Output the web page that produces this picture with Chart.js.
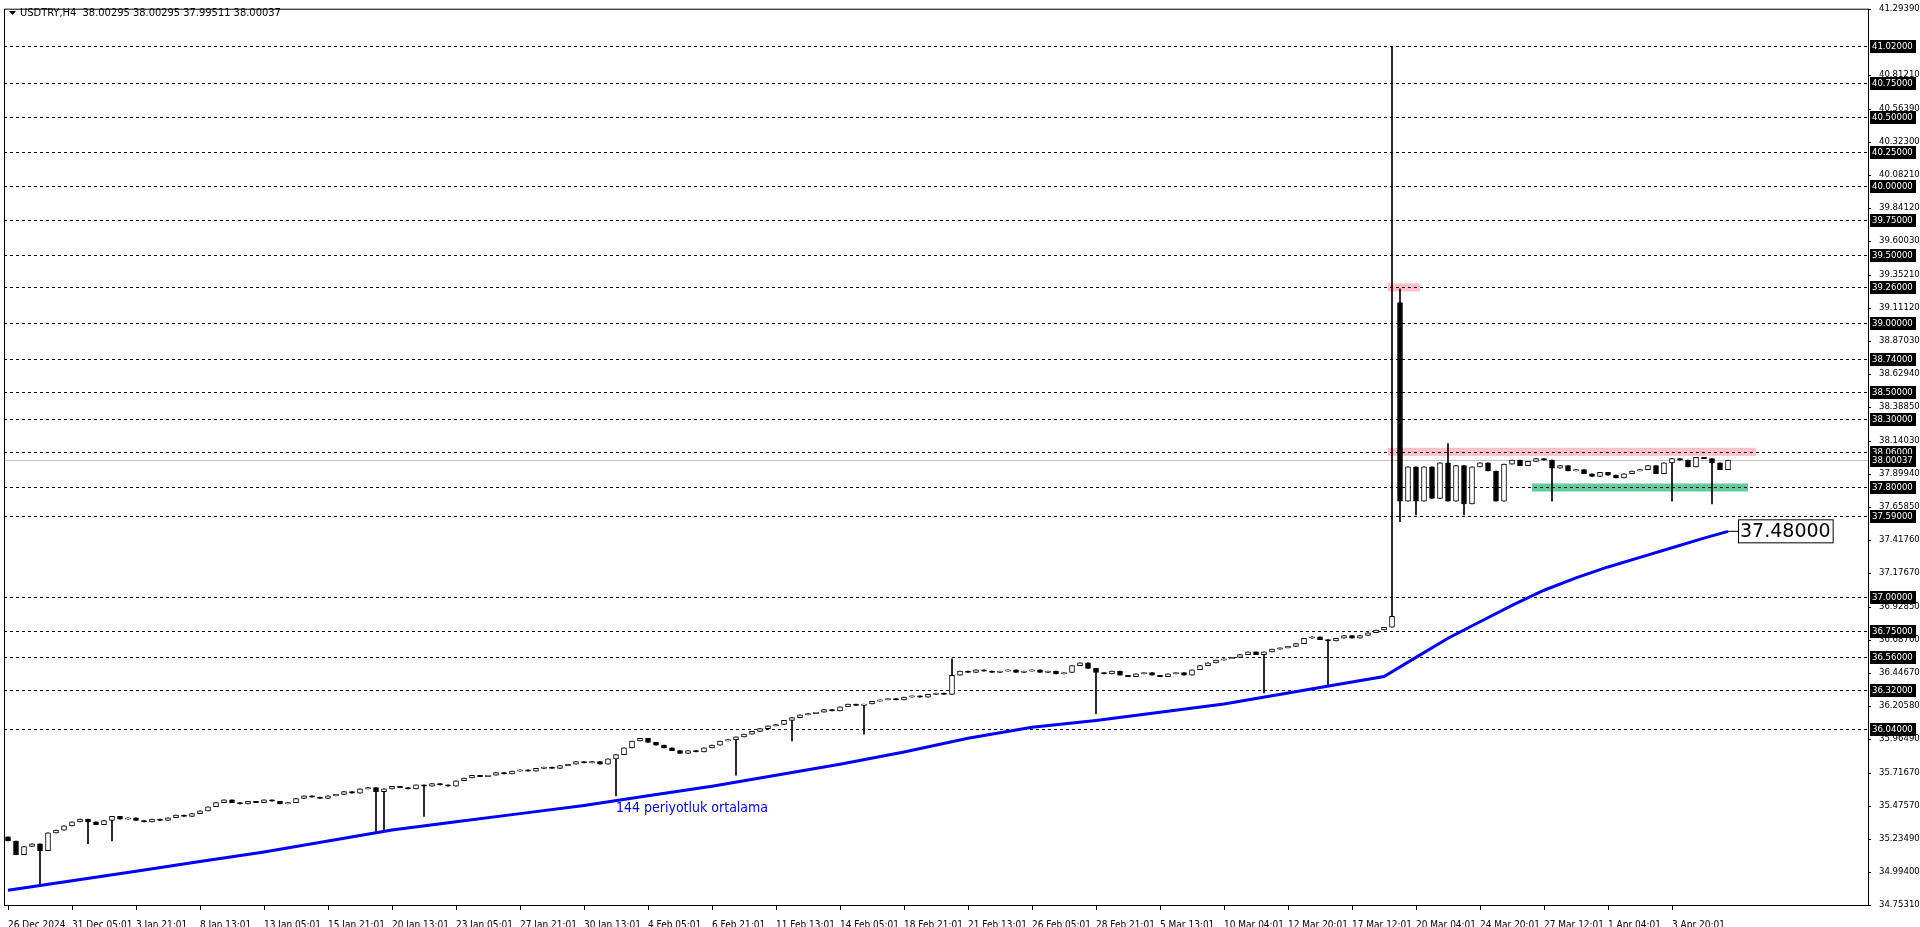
<!DOCTYPE html>
<html>
<head>
<meta charset="utf-8">
<script src="https://cdn.jsdelivr.net/npm/chart.js@4"></script>
<style>
  html, body { margin: 0; padding: 0; background: #fff; }
  #wrap { width: 1920px; height: 927px; position: relative; }
</style>
</head>
<body>
<div id="wrap"><canvas id="chart" width="1920" height="927"></canvas></div>
<script>
// --- DATA ---
const dateLabels = ['26 Dec 2024', '31 Dec 05:01', '3 Jan 21:01', '8 Jan 13:01', '13 Jan 05:01', '15 Jan 21:01',
  '20 Jan 13:01', '23 Jan 05:01', '27 Jan 21:01', '30 Jan 13:01', '4 Feb 05:01', '6 Feb 21:01', '11 Feb 13:01',
  '14 Feb 05:01', '18 Feb 21:01', '21 Feb 13:01', '26 Feb 05:01', '28 Feb 21:01', '5 Mar 13:01', '10 Mar 04:01',
  '12 Mar 20:01', '17 Mar 12:01', '20 Mar 04:01', '24 Mar 20:01', '27 Mar 12:01', '1 Apr 04:01', '3 Apr 20:01'];

const closes = [
  35.22,35.12,35.18,35.2,35.15,35.28,35.3,35.33,
  35.36,35.38,35.36,35.34,35.37,35.4,35.38,35.39,
  35.37,35.36,35.38,35.37,35.39,35.41,35.4,35.42,
  35.44,35.47,35.5,35.52,35.5,35.49,35.51,35.5,
  35.52,35.51,35.49,35.5,35.53,35.55,35.54,35.53,
  35.55,35.56,35.58,35.57,35.6,35.61,35.58,35.6,
  35.62,35.61,35.6,35.63,35.62,35.64,35.63,35.62,
  35.66,35.68,35.7,35.69,35.7,35.72,35.71,35.73,
  35.74,35.73,35.75,35.76,35.75,35.77,35.78,35.8,
  35.79,35.8,35.78,35.82,35.85,35.9,35.95,35.97,
  35.94,35.92,35.9,35.88,35.86,35.88,35.87,35.9,
  35.92,35.95,35.96,35.98,36.0,36.02,36.04,36.06,
  36.07,36.1,36.12,36.14,36.15,36.16,36.18,36.17,
  36.2,36.22,36.21,36.22,36.24,36.25,36.26,36.25,
  36.27,36.28,36.27,36.29,36.3,36.29,36.43,36.46,
  36.45,36.47,36.46,36.45,36.46,36.47,36.45,36.46,
  36.47,36.45,36.46,36.44,36.45,36.5,36.52,36.48,
  36.45,36.44,36.46,36.43,36.42,36.44,36.45,36.43,
  36.42,36.44,36.45,36.43,36.47,36.5,36.52,36.54,
  36.55,36.56,36.58,36.6,36.58,36.6,36.62,36.63,
  36.64,36.66,36.7,36.71,36.69,36.68,36.7,36.72,
  36.7,36.72,36.74,36.76,36.78,
  36.86,
  37.7,
  37.95,37.7,37.95,37.72,37.98,37.7,37.96,37.68,37.95,
  37.98,37.92,37.7,37.97,38.0,37.96,37.99,38.01,
  38.0,37.94,37.96,37.92,37.93,37.9,37.88,37.91,
  37.89,37.87,37.9,37.92,37.93,37.96,37.9,37.98,
  38.01,38.0,37.95,38.02,38.01,37.98,37.93,38.00037
];
const firstOpen = 35.25;
// opens that gap away from the previous close: [bar index, price]
const gapOpens = [[174, 39.15]];

// long wicks: [bar index, price]
const lowWicks = [[4,34.9],[10,35.2],[13,35.22],[46,35.28],[47,35.3],[52,35.4],[76,35.55],[91,35.7],[98,35.95],
  [107,36.0],[136,36.15],[157,36.3],[165,36.35],[174,37.55],[176,37.6],[182,37.6],[193,37.7],[208,37.7],[213,37.68]];
const highWicks = [[118,36.55],[173,41.02],[174,39.25],[180,38.12]];

// 144 period moving average: [bar index, value]
const maPoints = [[0,34.86],[8,34.93],[16,35.0],[24,35.07],[32,35.14],[40,35.22],[48,35.3],[56,35.36],[64,35.42],
  [72,35.48],[80,35.55],[88,35.62],[96,35.7],[104,35.78],[112,35.87],[120,35.97],[128,36.05],[136,36.1],
  [144,36.16],[152,36.22],[160,36.3],[168,36.38],[172,36.42],[176,36.56],[180,36.7],[184,36.82],[188,36.94],
  [192,37.05],[196,37.14],[200,37.22],[204,37.29],[208,37.36],[212,37.43],[215,37.48]];

const levels = [41.02, 40.75, 40.5, 40.25, 40.0, 39.75, 39.5, 39.26, 39.0, 38.74, 38.5, 38.3, 38.06, 37.8, 37.59,
  37.0, 36.75, 36.56, 36.32, 36.04];
const priceTicks = [41.2939, 40.8121, 40.5639, 40.323, 40.0821, 39.8412, 39.6003, 39.3521, 39.1112, 38.8703,
  38.6294, 38.3885, 38.1403, 37.8994, 37.6585, 37.4176, 37.1767, 36.9285, 36.6876, 36.4467, 36.2058,
  35.9649, 35.7167, 35.4757, 35.2349, 34.994, 34.7531];
const lastPrice = 38.00037;
const maLabel = '37.48000';
// zones: [price, from bar, to bar, colour]
const zones = [[39.26, 173, 177, 'rgba(255,170,185,0.75)'], [38.06, 173, 219, 'rgba(255,170,185,0.75)'],
  [37.8, 191, 218, 'rgba(60,190,140,0.8)']];

const TOTAL_SLOTS = 233;
const Y_MIN = 34.7531, Y_MAX = 41.2939;

// --- BUILD ---
const slots = [];
for (let i = 0; i < TOTAL_SLOTS; i++) slots.push(i % 8 === 0 && dateLabels[i / 8] ? dateLabels[i / 8] : '');

const opens = closes.map((c, i) => i === 0 ? firstOpen : closes[i - 1]);
gapOpens.forEach(([i, v]) => { opens[i] = v; });
const lows = closes.map((c, i) => Math.min(c, opens[i]));
const highs = closes.map((c, i) => Math.max(c, opens[i]));
lowWicks.forEach(([i, v]) => { lows[i] = v; });
highWicks.forEach(([i, v]) => { highs[i] = v; });

const wickData = closes.map((c, i) => [lows[i], highs[i]]);
const bodyData = closes.map((c, i) => [opens[i], c]);
const bodyFill = closes.map((c, i) => c >= opens[i] ? '#ffffff' : '#000000');
const maData = new Array(TOTAL_SLOTS).fill(null);
maPoints.forEach(([i, v]) => { maData[i] = v; });

const FONT = '"DejaVu Sans Condensed", "Liberation Sans", sans-serif';

const overlay = {
  id: 'overlay',
  beforeDatasetsDraw(chart) {
    const { ctx, chartArea: a, scales: { x, y } } = chart;
    ctx.save();
    zones.forEach(([p, from, to, col]) => {
      const yy = y.getPixelForValue(p);
      ctx.fillStyle = col;
      ctx.fillRect(x.getPixelForValue(from) - 4, yy - 4, x.getPixelForValue(to) - x.getPixelForValue(from), 8);
    });
    ctx.strokeStyle = '#000';
    ctx.lineWidth = 1;
    ctx.setLineDash([3, 3]);
    levels.forEach(p => {
      const yy = Math.round(y.getPixelForValue(p)) + 0.5;
      ctx.beginPath(); ctx.moveTo(a.left, yy); ctx.lineTo(a.right, yy); ctx.stroke();
    });
    ctx.setLineDash([]);
    ctx.strokeStyle = '#c0c0c0';
    const ly = Math.round(y.getPixelForValue(lastPrice)) + 0.5;
    ctx.beginPath(); ctx.moveTo(a.left, ly); ctx.lineTo(a.right, ly); ctx.stroke();
    ctx.restore();
  },
  afterDraw(chart) {
    const { ctx, chartArea: a, scales: { x, y } } = chart;
    ctx.save();
    ctx.strokeStyle = '#000';
    ctx.lineWidth = 1;
    ctx.strokeRect(a.left + 0.5, a.top + 0.5, a.right - a.left, a.bottom - a.top);
    // price axis tick marks
    priceTicks.forEach(p => {
      const yy = Math.round(y.getPixelForValue(p)) + 0.5;
      ctx.beginPath(); ctx.moveTo(a.right, yy); ctx.lineTo(a.right + 3, yy); ctx.stroke();
    });
    slots.forEach((s, i) => {
      if (!s) return;
      const xx = Math.round(x.getPixelForValue(i)) + 0.5;
      ctx.beginPath(); ctx.moveTo(xx, a.bottom); ctx.lineTo(xx, a.bottom + 5); ctx.stroke();
    });
    // level boxes on the price axis
    ctx.font = '9.5px ' + FONT;
    ctx.textBaseline = 'middle';
    const boxed = levels.map(p => [p, p.toFixed(5)]).concat([[lastPrice, lastPrice.toFixed(5)]]);
    boxed.forEach(([p, t]) => {
      const yy = Math.round(y.getPixelForValue(p));
      ctx.fillStyle = '#000';
      ctx.fillRect(a.right + 2, yy - 6, 46, 13);
      ctx.fillStyle = '#fff';
      ctx.fillText(t, a.right + 4, yy + 1);
    });
    // MA end label
    const mx = x.getPixelForValue(215), my = y.getPixelForValue(37.48);
    ctx.beginPath(); ctx.moveTo(mx, my); ctx.lineTo(mx + 10, my); ctx.stroke();
    ctx.font = '19px "DejaVu Sans", sans-serif';
    const w = ctx.measureText(maLabel).width + 4;
    ctx.fillStyle = '#fff';
    ctx.fillRect(mx + 10, my - 12, w, 24);
    ctx.strokeRect(mx + 10.5, my - 11.5, w, 23);
    ctx.fillStyle = '#000';
    ctx.fillText(maLabel, mx + 12, my + 1);
    // MA caption
    ctx.font = '14px ' + FONT;
    ctx.fillStyle = '#0000ff';
    ctx.fillText('144 periyotluk ortalama', x.getPixelForValue(76), y.getPixelForValue(35.46));
    // title
    ctx.fillStyle = '#000';
    ctx.font = '11px ' + FONT;
    ctx.beginPath(); ctx.moveTo(9, 11); ctx.lineTo(16, 11); ctx.lineTo(12.5, 15); ctx.closePath(); ctx.fill();
    ctx.fillText('USDTRY,H4  38.00295 38.00295 37.99511 38.00037', 20, 13);
    ctx.restore();
  }
};

new Chart(document.getElementById('chart'), {
  data: {
    labels: slots,
    datasets: [
      { type: 'line', data: maData, spanGaps: true, borderColor: '#0000ff', borderWidth: 3, pointRadius: 0, order: 0 },
      { type: 'bar', data: wickData, backgroundColor: '#000', barThickness: 1, grouped: false, order: 2 },
      { type: 'bar', data: bodyData, backgroundColor: bodyFill, borderColor: '#000', borderWidth: 1,
        borderSkipped: false, barThickness: 5, minBarLength: 1, grouped: false, order: 1 }
    ]
  },
  options: {
    responsive: false,
    animation: false,
    layout: { padding: { left: 4, top: 4, right: 0, bottom: 0 } },
    plugins: { legend: { display: false }, tooltip: { enabled: false } },
    scales: {
      x: {
        type: 'category',
        offset: true,
        grid: { display: false },
        border: { display: false },
        ticks: { autoSkip: false, maxRotation: 0, align: 'start', padding: 6,
                 color: '#000', font: { family: FONT, size: 10 } },
        afterFit(s) { s.height = 22; }
      },
      y: {
        position: 'right',
        min: Y_MIN, max: Y_MAX,
        grid: { display: false },
        border: { display: false },
        afterBuildTicks(s) { s.ticks = priceTicks.map(v => ({ value: v })); },
        ticks: { color: '#000', padding: 3, font: { family: FONT, size: 9.5 },
                 callback: v => v.toFixed(5) },
        afterFit(s) { s.width = 52; }
      }
    }
  },
  plugins: [overlay]
});
</script>
</body>
</html>
